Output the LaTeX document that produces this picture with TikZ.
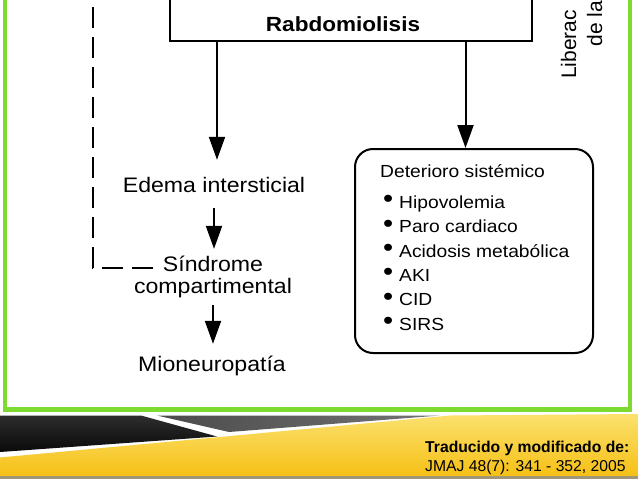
\documentclass[tikz,border=0pt]{standalone}
\usepackage{fontspec}
\usepackage{graphicx}
\setmainfont{Liberation Sans}
\newfontfamily\dg[FakeStretch=1.1]{Liberation Sans}
\usetikzlibrary{arrows.meta}
\definecolor{frameg}{RGB}{125,218,48}
\definecolor{banblk1}{RGB}{45,45,45}
\definecolor{banblk2}{RGB}{10,10,10}
\definecolor{bangr1}{RGB}{75,75,75}
\definecolor{bangr2}{RGB}{115,115,115}
\definecolor{yl1}{RGB}{251,225,110}
\definecolor{yl2}{RGB}{246,192,22}
\definecolor{botline}{RGB}{160,150,120}
\newcommand{\blt}{\makebox[16pt][l]{\raisebox{0.5pt}{\scalebox{1.5}{•}}}}
\begin{document}
\begin{tikzpicture}[x=1pt,y=-1pt,
  lbl/.style={inner sep=0pt, font=\dg\fontsize{21}{22}\selectfont, text height=15pt, text depth=0pt},
  lbltwo/.style={inner sep=0pt, font=\dg\fontsize{21}{22}\selectfont},
  item/.style={inner sep=0pt, anchor=base west, font=\dg\fontsize{17.5}{20}\selectfont},
  arr/.style={line width=2pt, -{Triangle[width=16pt,length=23pt]}},
  dashline/.style={line width=2.5pt, dash pattern=on 21pt off 9pt},
  rot/.style={inner sep=0pt, rotate=90, anchor=base west, font=\fontsize{21}{24}\selectfont},
  foot/.style={inner sep=0pt, anchor=base west, font=\fontsize{15.7}{18}\selectfont}]
\useasboundingbox (0,0) rectangle (638,479);
\fill[white] (0,0) rectangle (638,479);
% green frame
\draw[frameg, line width=4.5pt] (5,-10) -- (5,409.5) -- (630,409.5) -- (630,-10);
% top box
\node[draw, line width=2.2pt, minimum width=362pt, text height=51pt, text depth=10pt, inner sep=0pt,
      anchor=base, font=\dg\bfseries\fontsize{20.5}{22}\selectfont] (rab) at (351,31) {\hspace*{-16pt}Rabdomiolisis};
% rotated texts
\node[rot] (lib1) at (576,79) {Liberac};
\node[rot] (lib2) at (602,46.5) {de la};
% left chain
\node[lbl, anchor=base] (edema) at (214,192) {Edema intersticial};
\node[lbltwo, align=center, anchor=base] (sind) at (213,293) {Síndrome\\compartimental};
\node[lbl, anchor=base] (mion) at (212,371) {Mioneuropatía};
\draw[arr, shorten >=17pt] ([xshift=3pt]edema.north |- rab.south) -- ([xshift=3pt]edema.north);
\draw[arr, shorten <=16pt, shorten >=6.5pt] (edema.south) -- (edema.south |- sind.north);
\draw[arr, shorten <=7.5pt, shorten >=12pt] (sind.south) -- (sind.south |- mion.north);
% dashed connector
\coordinate (dtop) at (93,-5);
\coordinate (dend) at (153,268);
\draw[dashline] (dend) -| (dtop);
% right box
\node[draw, line width=2pt, rounded corners=18pt, minimum width=238pt, minimum height=204pt, inner sep=0pt] (det) at (474,251) {};
\draw[arr] ([xshift=-8.5pt]det.north |- rab.south) -- ([xshift=-8.5pt]det.north);
\node[item] (dt) at (380,177) {Deterioro sistémico};
\node[item] (i1) at (383,208) {\blt Hipovolemia};
\node[item] (i2) at (383,232.5) {\blt Paro cardiaco};
\node[item] (i3) at (383,257) {\blt Acidosis metabólica};
\node[item] (i4) at (383,281) {\blt AKI};
\node[item] (i5) at (383,305.5) {\blt CID};
\node[item] (i6) at (383,330) {\blt SIRS};
% banner
\shade[top color=banblk1, bottom color=banblk2] (0,415.5) -- (141,415.5) -- (217,436.5) -- (0,452) -- cycle;
\shade[left color=bangr1, right color=bangr2] (157,415.5) -- (440,415.5) -- (229,432) -- cycle;
\shade[top color=yl1, bottom color=yl2] (0,457.5) -- (450,415.5) -- (638,414) -- (638,476) -- (0,476) -- cycle;
\fill[botline] (0,476) rectangle (638,479);
\node[foot, font=\bfseries\fontsize{15.7}{18}\selectfont] (src1) at (425,452) {Traducido y modificado de:};
\node[foot] (src2) at (425,471) {JMAJ 48(7): 341 - 352, 2005};
\end{tikzpicture}
\end{document}
